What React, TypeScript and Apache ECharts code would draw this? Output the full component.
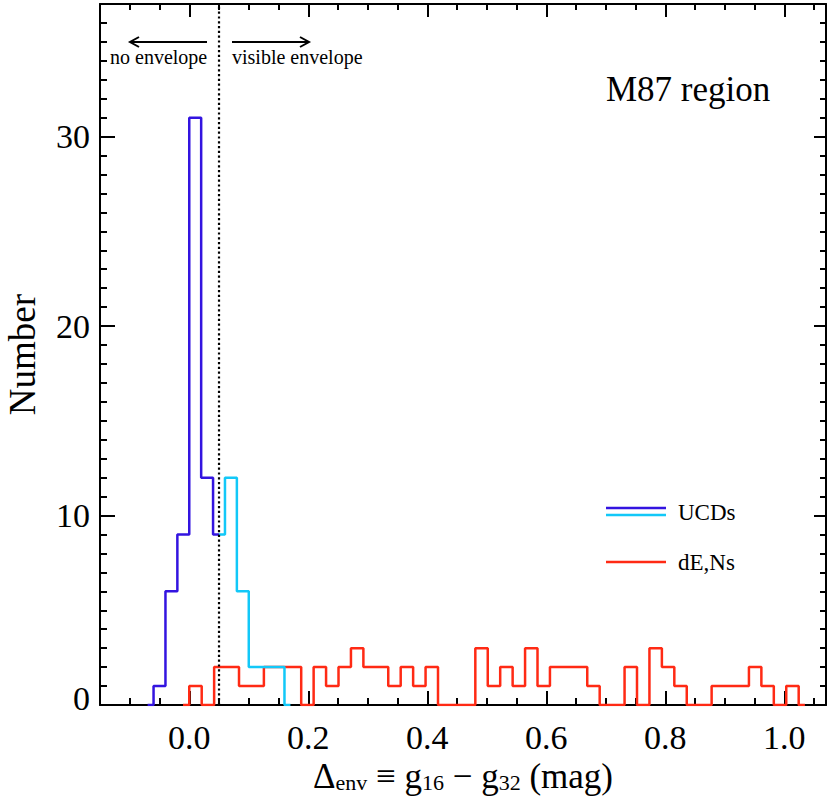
import React, { useEffect, useRef } from "react";
import * as echarts from "echarts";

// ---- axis ranges & ticks ----
const X_MIN = -0.15;
const X_MAX = 1.07;
const Y_MIN = 0;
const Y_MAX = 37;
const xMajorTicks = [0, 0.2, 0.4, 0.6, 0.8, 1.0];
const xMinorTicks = [-0.1, -0.05, 0.05, 0.1, 0.15, 0.25, 0.3, 0.35, 0.45, 0.5, 0.55, 0.65, 0.7, 0.75, 0.85, 0.9, 0.95, 1.05];
const yMajorTicks = [0, 10, 20, 30];
const yMinorTicks = [1, 2, 3, 4, 5, 6, 7, 8, 9, 11, 12, 13, 14, 15, 16, 17, 18, 19, 21, 22, 23, 24, 25, 26, 27, 28, 29, 31, 32, 33, 34, 35, 36];

// ---- histogram data ----
const ucdBinStart = -0.08;
const ucdBinWidth = 0.02;
const ucdCounts = [0, 1, 6, 9, 31, 12, 9, 12, 6, 2, 2, 2, 0];
const envelopeCut = 0.05;

const dENBinStart = -0.0209;
const dENBinWidth = 0.0209;
const dENCounts = [
  0,
  1, 0, 2, 2, 1, 1, 2, 2, 2, 0,
  2, 1, 2, 3, 2, 2, 1, 2, 1, 2,
  0, 0, 0, 3, 1, 2, 1, 3, 1, 2,
  2, 2, 1, 0, 0, 2, 0, 3, 2, 1,
  0, 0, 1, 1, 1, 2, 1, 0, 1, 0,
];

const FONT = "'Liberation Serif', 'DejaVu Serif', 'Times New Roman', serif";
const BLUE = "#3314e0";
const CYAN = "#12c8f8";
const RED = "#ff2a14";

function stepPoints(start: number, w: number, counts: number[]): number[][] {
  const pts: number[][] = [];
  const n = counts.length;
  pts.push([start + 0.5 * w, counts[0]]);
  for (let i = 1; i < n; i++) {
    const edge = start + i * w;
    pts.push([edge, counts[i - 1]]);
    pts.push([edge, counts[i]]);
  }
  pts.push([start + (n - 0.5) * w, counts[n - 1]]);
  return pts;
}

function splitAt(pts: number[][], cut: number): [number[][], number[][]] {
  const left: number[][] = [];
  const right: number[][] = [];
  for (let i = 0; i < pts.length; i++) {
    const p = pts[i];
    if (p[0] <= cut) {
      left.push(p);
      const q = pts[i + 1];
      if (q && q[0] > cut) {
        const y = p[1] + ((q[1] - p[1]) * (cut - p[0])) / (q[0] - p[0]);
        left.push([cut, y]);
        right.push([cut, y]);
      }
    } else {
      right.push(p);
    }
  }
  return [left, right];
}

export default function App() {
  const ref = useRef<HTMLDivElement>(null);

  useEffect(() => {
    document.body.style.margin = "0";
    if (!ref.current) return;
    const chart = echarts.init(ref.current, undefined, { renderer: "svg" });

    const ucdPts = stepPoints(ucdBinStart, ucdBinWidth, ucdCounts);
    const [bluePts, cyanPts] = splitAt(ucdPts, envelopeCut);
    const redPts = stepPoints(dENBinStart, dENBinWidth, dENCounts);

    const baseX = {
      type: "value" as const,
      min: X_MIN,
      max: X_MAX,
      splitLine: { show: false },
      axisLabel: { show: false },
    };
    const baseY = {
      type: "value" as const,
      min: Y_MIN,
      max: Y_MAX,
      splitLine: { show: false },
      axisLabel: { show: false },
    };
    const axLine = { show: true, onZero: false, lineStyle: { color: "#000", width: 2 } };
    const noLine = { show: false, onZero: false };

    const option: any = {
      animation: false,
      backgroundColor: "#fff",
      grid: { left: 100, right: 5, top: 4, bottom: 100, containLabel: false, outerBoundsMode: "none" },
      xAxis: [
        {
          ...baseX,
          position: "bottom",
          axisLine: axLine,
          axisTick: { show: true, inside: true, length: 14, lineStyle: { color: "#000", width: 2 }, customValues: xMajorTicks },
          axisLabel: {
            show: true,
            customValues: xMajorTicks,
            formatter: (v: number) => v.toFixed(1),
            fontFamily: FONT,
            fontSize: 34,
            color: "#000",
            margin: 15,
          },
          name: "{a|Δ}{s|env}{a| ≡ g}{s|16}{a| − g}{s|32}{a| (mag)}",
          nameLocation: "middle",
          nameGap: 46,
          nameTextStyle: {
            fontFamily: FONT,
            color: "#000",
            rich: {
              a: { fontFamily: FONT, fontSize: 35, lineHeight: 38, color: "#000", verticalAlign: "bottom" },
              s: { fontFamily: FONT, fontSize: 22, lineHeight: 12, color: "#000", verticalAlign: "bottom" },
            },
          },
        },
        {
          ...baseX,
          position: "bottom",
          axisLine: noLine,
          axisTick: { show: true, inside: true, length: 7, lineStyle: { color: "#000", width: 2 }, customValues: xMinorTicks },
        },
        {
          ...baseX,
          position: "top",
          axisLine: axLine,
          axisTick: { show: true, inside: true, length: 13, lineStyle: { color: "#000", width: 2 }, customValues: xMajorTicks },
        },
        {
          ...baseX,
          position: "top",
          axisLine: noLine,
          axisTick: { show: true, inside: true, length: 6, lineStyle: { color: "#000", width: 2 }, customValues: xMinorTicks },
        },
      ],
      yAxis: [
        {
          ...baseY,
          position: "left",
          axisLine: axLine,
          axisTick: { show: true, inside: true, length: 15, lineStyle: { color: "#000", width: 2 }, customValues: yMajorTicks },
          axisLabel: {
            show: true,
            customValues: yMajorTicks,
            formatter: (v: number) => (v === 0 ? "{z|0}" : String(v)),
            fontFamily: FONT,
            fontSize: 34,
            color: "#000",
            margin: 10,
            rich: {
              z: { fontFamily: FONT, fontSize: 34, color: "#000", padding: [0, 0, 14, 0] },
            },
          },
          name: "Number",
          nameLocation: "middle",
          nameRotate: 90,
          nameGap: 59,
          nameTextStyle: { fontFamily: FONT, fontSize: 37, color: "#000" },
        },
        {
          ...baseY,
          position: "left",
          axisLine: noLine,
          axisTick: { show: true, inside: true, length: 7, lineStyle: { color: "#000", width: 2 }, customValues: yMinorTicks },
        },
        {
          ...baseY,
          position: "right",
          axisLine: axLine,
          axisTick: { show: true, inside: true, length: 12, lineStyle: { color: "#000", width: 2 }, customValues: yMajorTicks },
        },
        {
          ...baseY,
          position: "right",
          axisLine: noLine,
          axisTick: { show: true, inside: true, length: 6, lineStyle: { color: "#000", width: 2 }, customValues: yMinorTicks },
        },
      ],
      series: [
        {
          name: "dE,Ns",
          type: "line",
          data: redPts,
          symbol: "none",
          lineStyle: { color: RED, width: 2.5 },
          z: 3,
        },
        {
          name: "UCDs (no envelope)",
          type: "line",
          data: bluePts,
          symbol: "none",
          lineStyle: { color: BLUE, width: 2.5 },
          z: 4,
        },
        {
          name: "UCDs (envelope)",
          type: "line",
          data: cyanPts,
          symbol: "none",
          lineStyle: { color: CYAN, width: 2.5 },
          z: 4,
        },
        {
          name: "cut",
          type: "line",
          data: [
            [envelopeCut, Y_MIN],
            [envelopeCut, Y_MAX],
          ],
          symbol: "none",
          lineStyle: { color: "#000", width: 2.2, type: [2.2, 2.6] },
          z: 5,
        },
      ],
      graphic: [
        // arrows
        { type: "line", shape: { x1: 207, y1: 42, x2: 131, y2: 42 }, style: { stroke: "#000", lineWidth: 2 } },
        { type: "polyline", shape: { points: [[139, 37], [130, 42], [139, 47]] }, style: { stroke: "#000", lineWidth: 2, fill: "none" } },
        { type: "line", shape: { x1: 232, y1: 42, x2: 308, y2: 42 }, style: { stroke: "#000", lineWidth: 2 } },
        { type: "polyline", shape: { points: [[300, 37], [309, 42], [300, 47]] }, style: { stroke: "#000", lineWidth: 2, fill: "none" } },
        { type: "text", x: 110, y: 57, style: { text: "no envelope", font: `20px ${FONT}`, fill: "#000", textVerticalAlign: "middle" } },
        { type: "text", x: 232, y: 57, style: { text: "visible envelope", font: `20px ${FONT}`, fill: "#000", textVerticalAlign: "middle" } },
        { type: "text", x: 606, y: 89, style: { text: "M87 region", font: `35px ${FONT}`, fill: "#000", textVerticalAlign: "middle" } },
        // legend
        { type: "line", shape: { x1: 606, y1: 508, x2: 666, y2: 508 }, style: { stroke: BLUE, lineWidth: 2.5 } },
        { type: "line", shape: { x1: 606, y1: 515, x2: 666, y2: 515 }, style: { stroke: CYAN, lineWidth: 2.5 } },
        { type: "line", shape: { x1: 606, y1: 562, x2: 666, y2: 562 }, style: { stroke: RED, lineWidth: 2.5 } },
        { type: "text", x: 678, y: 512, style: { text: "UCDs", font: `23px ${FONT}`, fill: "#000", textVerticalAlign: "middle" } },
        { type: "text", x: 678, y: 562, style: { text: "dE,Ns", font: `23px ${FONT}`, fill: "#000", textVerticalAlign: "middle" } },
      ],
    };

    chart.setOption(option);
    return () => chart.dispose();
  }, []);

  return <div ref={ref} style={{ width: 831, height: 805 }} />;
}
